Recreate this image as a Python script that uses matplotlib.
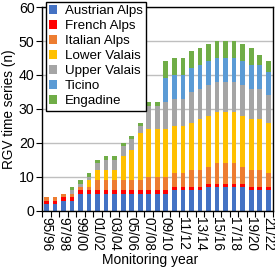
import numpy as np
import matplotlib
matplotlib.use("Agg")
import matplotlib.pyplot as plt

plt.rcParams['font.family'] = ['Liberation Sans', 'DejaVu Sans']

years = ['95/96', '96/97', '97/98', '98/99', '99/00', '00/01', '01/02', '02/03', '03/04',
         '04/05', '05/06', '06/07', '07/08', '08/09', '09/10', '10/11', '11/12', '12/13',
         '13/14', '14/15', '15/16', '16/17', '17/18', '18/19', '19/20', '20/21', '21/22']

austrian = [2, 2, 3, 3, 5, 5, 5, 5, 5, 5, 5, 5, 5, 5, 5, 6, 6, 6, 6, 7, 7, 7, 7, 7, 6, 6, 6]
french = [1, 1, 1, 1, 1, 1, 1, 1, 1, 1, 1, 1, 1, 1, 1, 1, 1, 1, 1, 1, 1, 1, 1, 1, 1, 1, 1]
italian = [1, 1, 1, 1, 1, 1, 3, 3, 3, 3, 3, 3, 4, 4, 4, 4, 4, 5, 5, 5, 6, 6, 6, 5, 5, 5, 4]
lower_valais = [0, 0, 0, 0, 0, 2, 3, 3, 3, 7, 9, 14, 14, 14, 14, 14, 14, 14, 15, 15, 15, 15, 15, 15, 15, 15, 15]
upper_valais = [0, 0, 0, 1, 1, 1, 2, 3, 3, 3, 3, 2, 7, 7, 8, 8, 8, 9, 9, 9, 9, 9, 9, 9, 9, 9, 8]
ticino = [0, 0, 0, 0, 0, 0, 0, 0, 0, 0, 0, 0, 0, 0, 7, 7, 7, 7, 7, 7, 7, 7, 7, 7, 7, 7, 7]
engadine = [0, 0, 0, 1, 1, 1, 1, 1, 1, 1, 1, 1, 1, 1, 5, 5, 5, 5, 5, 5, 5, 5, 5, 5, 5, 3, 3]

series = [austrian, french, italian, lower_valais, upper_valais, ticino, engadine]
names = ["Austrian Alps", "French Alps", "Italian Alps", "Lower Valais",
         "Upper Valais", "Ticino", "Engadine"]
colors = ["#4472C4", "#FF0000", "#ED7D31", "#FFC000", "#A5A5A5", "#5B9BD5", "#70AD47"]

fig = plt.figure(figsize=(2.75, 2.73), dpi=100)
ax = fig.add_axes([0.153, 0.228, 0.838, 0.746])

x = np.arange(len(years))
bottom = np.zeros(len(years))
for vals, name, col in zip(series, names, colors):
    ax.bar(x, vals, bottom=bottom, width=0.55, color=col, label=name, zorder=2)
    bottom += np.array(vals)

ax.set_xlim(-0.5, len(years) - 0.5)
ax.set_ylim(0, 60)
ax.set_yticks(range(0, 61, 10))
ax.yaxis.grid(True, color="#BFBFBF", linewidth=1.0, zorder=0)
ax.set_axisbelow(True)

# tick marks between categories, labels on every other bar
ax.set_xticks(np.arange(-0.5, len(years), 1.0))
ax.set_xticklabels([])
ax.set_xticks(x[::2], minor=True)
ax.set_xticklabels(years[::2], minor=True, rotation=-90, fontsize=9.8)
ax.tick_params(axis='x', which='major', length=4, width=0.8, direction='out')
ax.tick_params(axis='x', which='minor', length=0, pad=4.5)
ax.tick_params(axis='y', length=4, width=0.8, labelsize=10.2, pad=1.5)

for s in ax.spines.values():
    s.set_linewidth(1.0)
    s.set_color("black")

ax.set_ylabel("RGV time series (n)", fontsize=9.8, labelpad=2)
fig.text(0.545, 0.022, "Monitoring year", fontsize=10, ha="center", va="bottom")

leg = fig.legend(loc="upper left", bbox_to_anchor=(0.166, 0.994), fontsize=9.6,
                 frameon=True, fancybox=False, handlelength=0.6, handleheight=0.6,
                 handletextpad=0.6, labelspacing=0.23, borderpad=0.25, borderaxespad=0)
leg.get_frame().set_edgecolor("black")
leg.get_frame().set_linewidth(1.0)
leg.get_frame().set_alpha(1)

plt.savefig("out.png", dpi=100)
